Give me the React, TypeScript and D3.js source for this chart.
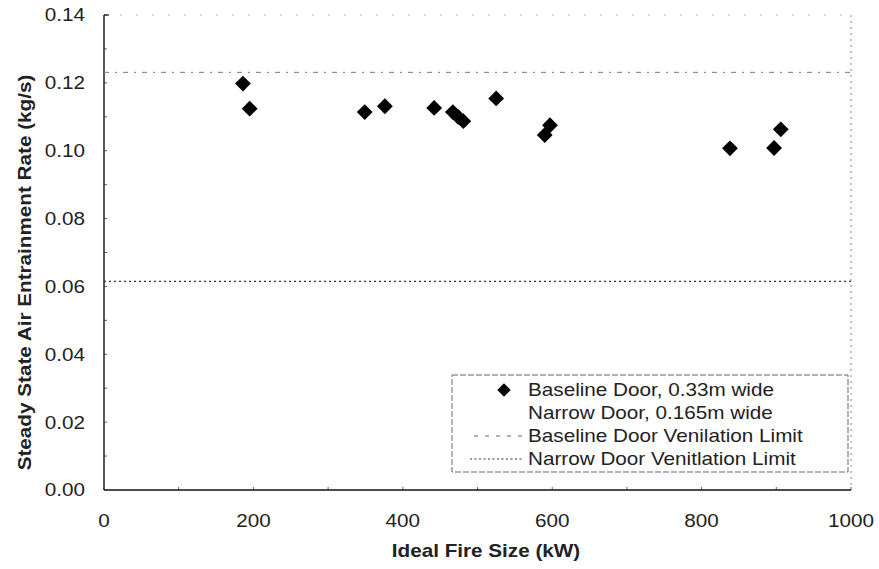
import { useMemo } from "react";
import * as d3 from "d3";

const width = 879;
const height = 569;

const MARGIN = { left: 104, right: 28, top: 15, bottom: 79 };

// baseline door, 0.33m wide
const fireSize = [186, 195, 349, 376, 442, 467, 474, 481, 525, 590, 597, 838, 897, 906];
const entrainment = [0.1198, 0.1124, 0.1114, 0.1131, 0.1126, 0.1114, 0.11, 0.1087, 0.1154, 0.1046, 0.1075, 0.1007, 0.1008, 0.1063];

const baselineLimit = 0.1231;
const narrowLimit = 0.0615;

const xTicks = [0, 200, 400, 600, 800, 1000];
const yTicks = [0, 0.02, 0.04, 0.06, 0.08, 0.1, 0.12, 0.14];

const legendLabels = [
  "Baseline Door, 0.33m wide",
  "Narrow Door, 0.165m wide",
  "Baseline Door Venilation Limit",
  "Narrow Door Venitlation Limit",
];

const FONT = "'Liberation Sans', Arial, sans-serif";
const STRETCH = 1.15; // scanned text is wider than it is tall

// text drawn at (x, y) and stretched along its own direction
const Label = ({ x, y, rotate = 0, anchor = "start", bold = false, size = 18, children }: any) => (
  <text
    transform={`translate(${x},${y}) rotate(${rotate}) scale(${STRETCH},1)`}
    textAnchor={anchor}
    dominantBaseline="central"
    fontFamily={FONT}
    fontSize={size}
    fontWeight={bold ? 700 : 400}
    fill="#222"
  >
    {children}
  </text>
);

export default function App() {
  const x = useMemo(
    () => d3.scaleLinear().domain([0, 1000]).range([MARGIN.left, width - MARGIN.right]),
    []
  );
  const y = useMemo(
    () => d3.scaleLinear().domain([0, 0.14]).range([height - MARGIN.bottom, MARGIN.top]),
    []
  );
  const diamond = d3.symbol().type(d3.symbolSquare).size(125)() as string;

  const x0 = x(0), x1 = x(1000), yb = y(0), yt = y(0.14);
  const minorY = d3.range(0, 0.1401, 0.01);
  const minorX = d3.range(0, 1001, 100);

  // legend box
  const lg = { x: 452, y: 375, w: 396, h: 97 };
  const row0 = lg.y + 15;
  const rowH = 23;

  return (
    <svg width={width} height={height} style={{ position: "absolute", left: 0, top: 0, background: "#fff" }}>
      {/* frame: top and right are faint */}
      <line x1={x0} x2={x1} y1={yt} y2={yt} stroke="#aaa" strokeWidth={0.8} strokeDasharray="2,14" />
      <line x1={x1} x2={x1} y1={yt} y2={yb} stroke="#888" strokeWidth={1} strokeDasharray="2,4" />
      <line x1={x0} x2={x0} y1={yt} y2={yb} stroke="#111" strokeWidth={1.4} />
      <line x1={x0} x2={x1} y1={yb} y2={yb} stroke="#111" strokeWidth={1.4} />
      <line x1={x0} x2={x0 + 5} y1={yt} y2={yt} stroke="#111" strokeWidth={1.2} />

      {minorY.map((v, i) => (
        <line key={"my" + i} x1={x0} x2={x0 + 3} y1={y(v)} y2={y(v)} stroke="#333" strokeWidth={0.8} />
      ))}
      {minorX.map((v, i) => (
        <line key={"mx" + i} x1={x(v)} x2={x(v)} y1={yb} y2={yb - 3} stroke="#333" strokeWidth={0.8} />
      ))}

      {/* tick labels */}
      {yTicks.map((v) => (
        <Label key={"yt" + v} x={x0 - 19} y={y(v)} anchor="end">
          {v.toFixed(2)}
        </Label>
      ))}
      {xTicks.map((v) => (
        <Label key={"xt" + v} x={x(v)} y={yb + 31} anchor="middle">
          {v}
        </Label>
      ))}

      {/* axis titles */}
      <Label x={486} y={551} anchor="middle" bold>
        Ideal Fire Size (kW)
      </Label>
      <Label x={25} y={(yt + yb) / 2 + 20} rotate={-90} anchor="middle" bold>
        Steady State Air Entrainment Rate (kg/s)
      </Label>

      {/* ventilation limits */}
      <line x1={x0} x2={x1} y1={y(baselineLimit)} y2={y(baselineLimit)} stroke="#777" strokeWidth={1}
        strokeDasharray="5,6,2,6" />
      <line x1={x0} x2={x1} y1={y(narrowLimit)} y2={y(narrowLimit)} stroke="#333" strokeWidth={1.1}
        strokeDasharray="2,3" />

      {/* baseline door points */}
      {fireSize.map((f, i) => (
        <path key={"p" + i} d={diamond} transform={`translate(${x(f)},${y(entrainment[i])}) rotate(45)`}
          fill="#000" />
      ))}

      {/* legend */}
      <rect x={lg.x} y={lg.y} width={lg.w} height={lg.h} fill="#fff" stroke="#555" strokeWidth={0.9}
        strokeDasharray="6,2" />
      <path d={diamond} transform={`translate(504,${row0}) rotate(45) scale(0.85)`} fill="#000" />
      <line x1={474} x2={524} y1={row0 + 2 * rowH} y2={row0 + 2 * rowH} stroke="#666"
        strokeWidth={1} strokeDasharray="4,7" />
      <line x1={470} x2={524} y1={row0 + 3 * rowH} y2={row0 + 3 * rowH} stroke="#333"
        strokeWidth={1} strokeDasharray="2,2.5" />
      {legendLabels.map((t, i) => (
        <Label key={t} x={528} y={row0 + i * rowH}>
          {t}
        </Label>
      ))}
    </svg>
  );
}
